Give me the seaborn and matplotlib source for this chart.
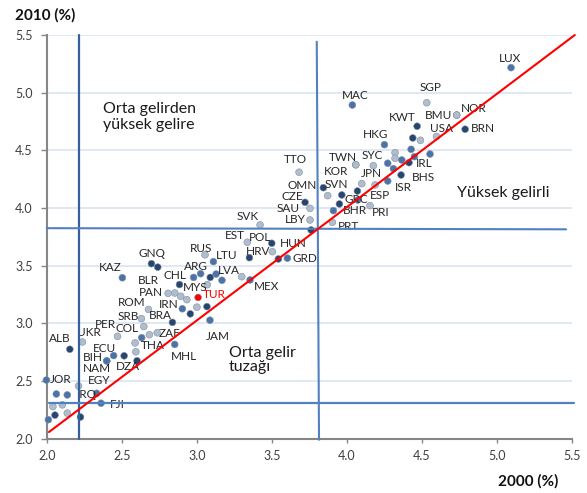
import pandas as pd
import matplotlib
matplotlib.use("Agg")
import matplotlib.pyplot as plt
import seaborn as sns

# ── data ────────────────────────────────────────────────────
NAMES = ["LUX", "SGP", "MAC", "NOR", "BMU", "KWT", "USA", "BRN", "HKG", "TWN",
         "KOR", "SYC", "IRL", "BHS", "ISR", "JPN", "OMN", "SVN", "CZE", "SAU",
         "LBY", "GRC", "ESP", "PRI", "BHR", "PRT", "TTO", "SVK", "EST", "POL",
         "HRV", "HUN", "GRD", "LTU", "LVA", "MEX", "JAM", "GNQ", "BLR", "KAZ",
         "RUS", "ARG", "CHL", "MYS", "TUR", "PAN", "ROM", "IRN", "BRA", "SRB",
         "PER", "COL", "ZAF", "THA", "MHL", "UKR", "ALB", "ECU", "BIH", "NAM",
         "DZA", "JOR", "EGY", "IRQ", "FJI"]
X2000 = [5.095, 4.533, 4.037, 4.733, 4.733, 4.469, 4.598, 4.789, 4.251, 4.060,
         4.060, 4.177, 4.415, 4.362, 4.273, 4.100, 3.844, 3.873, 3.722, 3.755,
         3.755, 3.951, 4.073, 4.155, 3.911, 3.904, 3.682, 3.422, 3.337, 3.500,
         3.504, 3.544, 3.604, 3.111, 3.168, 3.355, 3.088, 2.698, 2.740, 2.504,
         3.055, 3.026, 2.885, 2.934, 3.009, 2.809, 2.678, 2.904, 2.838, 2.631,
         2.472, 2.647, 2.736, 2.594, 2.853, 2.238, 2.154, 2.446, 2.400, 2.400,
         2.602, 1.998, 2.212, 2.333, 2.362]
Y2010 = [5.217, 4.913, 4.893, 4.806, 4.806, 4.709, 4.620, 4.683, 4.549, 4.375,
         4.375, 4.367, 4.393, 4.286, 4.234, 4.211, 4.176, 4.107, 4.049, 3.997,
         3.896, 4.035, 4.069, 4.020, 3.977, 3.876, 4.310, 3.853, 3.703, 3.694,
         3.621, 3.558, 3.565, 3.535, 3.373, 3.376, 3.027, 3.517, 3.487, 3.395,
         3.594, 3.430, 3.336, 3.205, 3.224, 3.260, 3.120, 3.126, 3.008, 3.041,
         2.887, 2.972, 2.918, 2.753, 2.817, 2.838, 2.775, 2.720, 2.674, 2.674,
         2.675, 2.508, 2.456, 2.393, 2.307]
SHADE = ["m", "l", "m", "l", "l", "d", "l", "d", "m", "l",
         "l", "l", "d", "d", "m", "l", "d", "l", "d", "l",
         "l", "d", "m", "l", "m", "l", "l", "l", "l", "d",
         "l", "d", "m", "m", "m", "m", "m", "d", "d", "m",
         "l", "m", "d", "l", "r", "l", "l", "m", "d", "l",
         "l", "l", "l", "l", "m", "l", "d", "m", "m", "m",
         "d", "m", "l", "m", "m"]

# unlabelled countries
X_OTHER = [4.440, 4.491, 4.555, 4.451, 4.429, 4.322, 4.322, 4.367, 4.273, 4.311,
           4.189, 3.967, 4.071, 3.762, 3.351, 3.300, 2.979, 3.090, 3.129, 2.854,
           2.893, 3.070, 3.001, 3.068, 2.957, 2.684, 2.633, 2.589, 2.516, 2.064,
           2.137, 2.041, 2.104, 2.137, 2.055, 2.011, 2.225]
Y_OTHER = [4.607, 4.587, 4.468, 4.445, 4.509, 4.480, 4.431, 4.416, 4.388, 4.341,
           4.200, 4.113, 4.147, 3.809, 3.569, 3.404, 3.398, 3.398, 3.427, 3.263,
           3.234, 3.335, 3.140, 3.145, 3.082, 2.901, 2.875, 2.830, 2.718, 2.387,
           2.379, 2.278, 2.293, 2.221, 2.204, 2.164, 2.187]
S_OTHER = ["d", "l", "m", "m", "m", "l", "l", "m", "m", "m",
           "l", "d", "d", "d", "d", "l", "m", "d", "m", "l",
           "l", "l", "l", "d", "d", "l", "m", "l", "d", "m",
           "m", "l", "l", "l", "d", "m", "d"]

# label offsets (points) from each labelled dot
LABEL_OFFSET = {
    "LUX": (-0.7, 6.8), "SGP": (2.9, 10.8), "MAC": (2.4, 7.2), "NOR": (12.5, 4.5),
    "BMU": (-13.2, -0.5), "KWT": (-10.6, 6.5), "USA": (3.4, 5.8), "BRN": (12.7, 0.4),
    "HKG": (-6.2, 7.5), "TWN": (-8.9, 5.4), "KOR": (-14.3, -5.2), "SYC": (-0.4, 7.2),
    "IRL": (10.8, -0.4), "BHS": (16.1, -1.9), "ISR": (11.2, -4.5), "JPN": (7.2, 7.5),
    "OMN": (-15.6, 1.4), "SVN": (6.5, 7.7), "CZE": (-8.9, 4.0), "SAU": (-15.6, 0.0),
    "LBY": (-10.8, 0.0), "GRC": (12.5, 2.9), "ESP": (16.1, 3.1), "PRI": (7.7, -4.8),
    "BHR": (15.6, 0.0), "PRT": (11.5, -2.7), "TTO": (-2.9, 8.9), "SVK": (-9.1, 6.0),
    "EST": (-8.9, 4.5), "POL": (-8.4, 4.0), "HRV": (-10.1, 0.2), "HUN": (10.8, 11.3),
    "GRD": (12.7, -0.5), "LTU": (9.6, 4.3), "LVA": (4.8, 6.7), "MEX": (12.0, -4.8),
    "JAM": (5.5, -11.4), "GNQ": (0.7, 7.2), "BLR": (-7.1, -9.6), "KAZ": (-8.4, 7.6),
    "RUS": (-3.1, 4.5), "ARG": (-3.1, 5.5), "CHL": (-3.1, 6.7), "MYS": (6.0, 9.1),
    "TUR": (11.4, 1.9), "PAN": (-12.4, 0.5), "ROM": (-11.9, 5.3), "IRN": (-9.5, 3.3),
    "BRA": (-8.4, 4.8), "SRB": (-9.1, 1.2), "PER": (-8.8, 8.4), "COL": (-11.9, -1.2),
    "ZAF": (8.8, -0.7), "THA": (11.9, 4.8), "MHL": (6.7, -8.8), "UKR": (4.8, 6.7),
    "ALB": (-7.1, 7.6), "ECU": (-6.4, 5.3), "BIH": (-10.0, 2.4), "NAM": (-7.2, -5.8),
    "DZA": (-6.4, -4.3), "JOR": (10.0, 0.7), "EGY": (15.0, 3.8), "IRQ": (-7.2, -1.1),
    "FJI": (11.9, -1.2),
}

PALETTE = {"d": "#27456F", "m": "#4B73A8", "l": "#B0BDCD", "r": "#FF0000"}
FONT = ["Lato", "DejaVu Sans"]

df = pd.DataFrame({"name": NAMES, "x": X2000, "y": Y2010, "shade": SHADE})
others = pd.DataFrame({"name": "", "x": X_OTHER, "y": Y_OTHER, "shade": S_OTHER})
allpts = pd.concat([others, df], ignore_index=True)

# ── plot ─────────────────────────────────────────────────────
sns.set_style("white")
plt.rcParams["font.family"] = FONT

fig = plt.figure(figsize=(5.87, 4.93), dpi=100)
ax = fig.add_axes([0.0796, 0.1103, 0.8945, 0.8187])

ax.set_xlim(2.0, 5.5)
ax.set_ylim(2.0, 5.5)
ax.set_xticks([2.0, 2.5, 3.0, 3.5, 4.0, 4.5, 5.0, 5.5])
ax.set_yticks([2.0, 2.5, 3.0, 3.5, 4.0, 4.5, 5.0, 5.5])
ax.xaxis.set_major_formatter(matplotlib.ticker.FormatStrFormatter("%.1f"))
ax.yaxis.set_major_formatter(matplotlib.ticker.FormatStrFormatter("%.1f"))
ax.grid(axis="y", color="#DCE6F2", linewidth=1.3, zorder=0)
ax.grid(axis="x", visible=False)
ax.set_axisbelow(True)

for side in ["top", "right"]:
    ax.spines[side].set_visible(False)
for side in ["left", "bottom"]:
    ax.spines[side].set_color("#868686")
    ax.spines[side].set_linewidth(1.5)
ax.tick_params(axis="y", length=4, width=1, color="#868686", pad=6,
               labelsize=9, labelcolor="#404040", left=True)
ax.tick_params(axis="x", length=3, width=1, color="#868686", pad=5,
               labelsize=9, labelcolor="#404040", bottom=True)

sns.scatterplot(data=allpts, x="x", y="y", hue="shade", palette=PALETTE,
                s=24, edgecolor="#7F8FA6", linewidth=0.4, legend=False,
                ax=ax, zorder=3, clip_on=False)
ax.set_xlabel("")
ax.set_ylabel("")

for name, x, y in zip(NAMES, X2000, Y2010):
    dx, dy = LABEL_OFFSET[name]
    ax.annotate(name, (x, y), xytext=(dx, dy), textcoords="offset points",
                ha="center", va="center", fontsize=8.5,
                color="#FF0000" if name == "TUR" else "#262626", zorder=4)

# region dividers and trend line
ax.plot([2.215, 2.215], [2.0, 5.5], color="#35609E", lw=1.6, zorder=5, clip_on=False)
ax.plot([3.815, 3.800], [1.99, 5.442], color="#5381C0", lw=1.5, zorder=5, clip_on=False)
ax.plot([2.0, 5.462], [3.825, 3.815], color="#5381C0", lw=1.5, zorder=5, clip_on=False)
ax.plot([2.015, 5.515], [2.305, 2.305], color="#5381C0", lw=1.6, zorder=5, clip_on=False)
ax.plot([2.015, 5.52], [2.057, 5.50], color="#FF0000", lw=1.5, zorder=6, clip_on=False)

ax.text(2.373, 4.79, "Orta gelirden\nyüksek gelire", fontsize=11.5, color="#1A1A1A",
        ha="left", va="center", linespacing=1.25, zorder=7)
ax.text(4.733, 4.133, "Yüksek gelirli", fontsize=11.5, color="#1A1A1A",
        ha="left", va="center", zorder=7,
        bbox=dict(facecolor="white", edgecolor="none", pad=2))
ax.text(3.213, 2.68, "Orta gelir\ntuzağı", fontsize=11.5, color="#1A1A1A",
        ha="left", va="center", linespacing=1.05, zorder=7)

fig.text(0.0256, 0.968, "2010 (%)", fontsize=11, fontweight="bold",
         ha="left", va="center", color="#111111")
fig.text(0.952, 0.023, "2000 (%)", fontsize=11, fontweight="bold",
         ha="right", va="center", color="#111111")

fig.savefig("out.png", dpi=100, facecolor="white")
